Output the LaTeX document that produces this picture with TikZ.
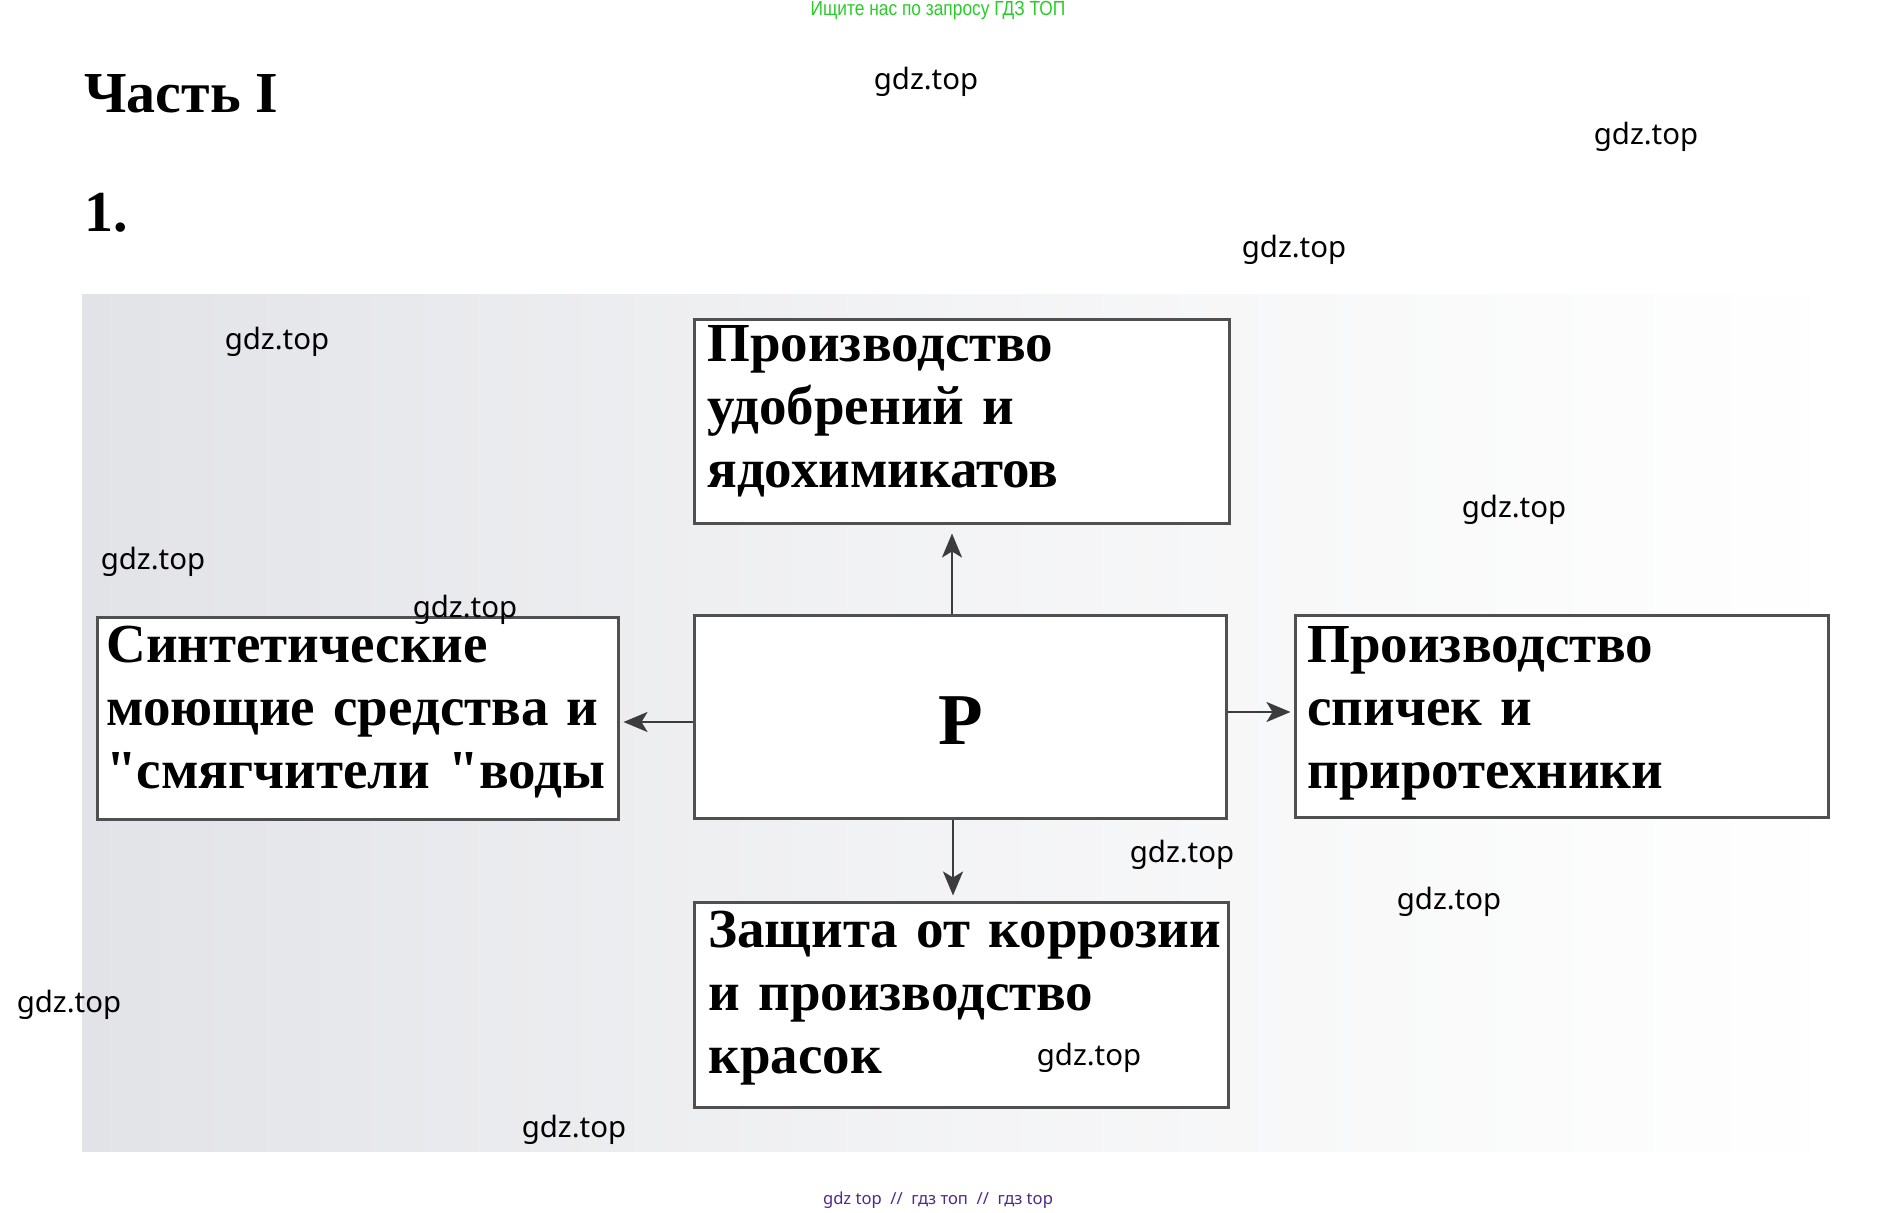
\documentclass[tikz,border=0pt]{standalone}
\usepackage{fontspec}
\setmainfont{Liberation Serif}[Ligatures=TeXOff]
\newfontfamily\wmfont{Noto Sans}
\newfontfamily\greenfont[FakeStretch=0.85]{Liberation Sans}
\usetikzlibrary{arrows.meta,calc}
\definecolor{bgray}{RGB}{226,227,231}
\definecolor{wgreen}{RGB}{40,205,40}
\definecolor{wpurple}{RGB}{80,40,140}
\definecolor{boxline}{RGB}{80,80,80}
\definecolor{arrcol}{RGB}{60,60,60}
\tikzset{
  box/.style={draw=boxline, line width=1.5pt, fill=white, inner sep=0pt},
  boxtext/.style={font=\fontsize{27.5}{31.5}\selectfont\bfseries, anchor=base west,
    inner sep=0pt, align=left, text width=300pt},
  headtext/.style={font=\fontsize{29}{32}\selectfont\bfseries, anchor=base west, inner sep=0pt},
  arr/.style={draw=arrcol, line width=1.2pt, -{Stealth[length=12pt,width=10pt,inset=3pt]}},
  wm/.style={font=\wmfont\fontsize{14.7}{17}\selectfont, inner sep=0pt, text=black},
}
\begin{document}
\begin{tikzpicture}[x=0.5pt,y=-0.5pt]
\useasboundingbox (0,0) rectangle (1878,1213);
\fill[white] (0,0) rectangle (1878,1213);
% scanned page background
\shade[left color=bgray, right color=white, middle color=bgray!40] (82,295) rectangle (1850,1151);

% headings
\node[headtext] (h1) at (84,113) {Часть I};
\node[headtext] (h2) at (84,232) {1.};

% boxes
\node[box, minimum width=266pt, minimum height=101.5pt] (P) at (960,716.5) {};
\node[box, minimum width=267.5pt, minimum height=102pt] (top) at (961.5,422) {};
\node[box, minimum width=267pt, minimum height=102.5pt] (bot) at (961,1004.5) {};
\node[box, minimum width=260.5pt, minimum height=101pt] (left) at (357.5,718) {};
\node[box, minimum width=266.5pt, minimum height=101pt] (right) at (1561.5,716) {};

% texts
\node[font=\fontsize{36.5}{40}\selectfont\bfseries, anchor=base, inner sep=0pt] (Pl) at (961,744) {P};
\node[boxtext] (toptxt) at (707,362) {Производство\\удобрений и\\ядохимикатов};
\node[boxtext] (lefttxt) at (106,662) {Синтетические\\моющие средства и\\"смягчители "воды};
\node[boxtext] (righttxt) at (1307,662) {Производство\\спичек и\\приротехники};
\node[boxtext] (bottxt) at (708,947) {Защита от коррозии\\и производство\\красок};

% arrows
\draw[arr, shorten >=4pt] ([xshift=-4pt]P.north) -- ([xshift=-4pt]P.north |- top.south);
\draw[arr, shorten >=2.5pt] ([xshift=-3.5pt]P.south) -- ([xshift=-3.5pt]P.south |- bot.north);
\draw[arr, shorten >=2pt] ([yshift=-2.75pt]P.west) -- ([yshift=-2.75pt]P.west -| left.east);
\draw[arr, shorten >=1.5pt] ([yshift=2.25pt]P.east) -- ([yshift=2.25pt]P.east -| right.west);

% watermarks
\node[wm] (w1) at (926,82) {gdz.top};
\node[wm] (w2) at (1646,137) {gdz.top};
\node[wm] (w3) at (1294,250) {gdz.top};
\node[wm] (w4) at (277,342) {gdz.top};
\node[wm] (w5) at (1514,510) {gdz.top};
\node[wm] (w6) at (153,562) {gdz.top};
\node[wm] (w7) at (465,610) {gdz.top};
\node[wm] (w8) at (1182,855) {gdz.top};
\node[wm] (w9) at (1449,902) {gdz.top};
\node[wm] (w10) at (69,1005) {gdz.top};
\node[wm] (w11) at (1089,1058) {gdz.top};
\node[wm] (w12) at (574,1130) {gdz.top};

\node[font=\greenfont\fontsize{10.2}{11}\selectfont, text=wgreen, inner sep=0pt] (gtop) at (938,11) {Ищите нас по запросу ГДЗ ТОП};
\node[font=\wmfont\fontsize{8.3}{10}\selectfont, text=wpurple, inner sep=0pt] (pbot) at (938,1200) {gdz top \ // \ гдз топ \ // \ гдз top};
\end{tikzpicture}
\end{document}
